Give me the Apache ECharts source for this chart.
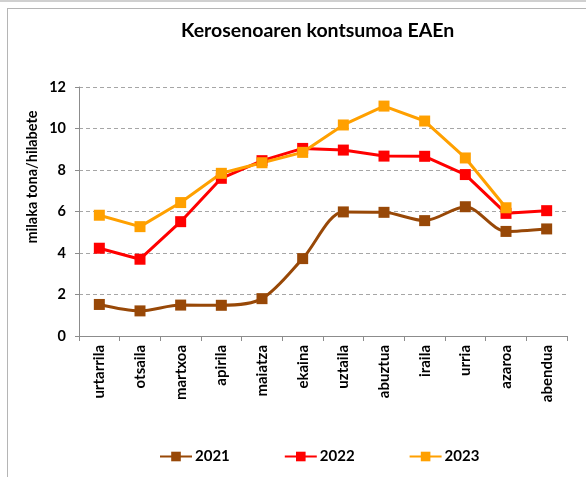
<!DOCTYPE html>
<html><head><meta charset="utf-8">
<script src="https://cdn.jsdelivr.net/npm/echarts@6/dist/echarts.min.js"></script>
<style>
html,body{margin:0;padding:0;background:#fff;}
#frame{position:absolute;left:7px;top:8px;width:600px;height:500px;border:1px solid #b5b5b5;box-sizing:border-box;}
#topline{position:absolute;left:0;top:0;width:586px;height:2px;background:#d0d0d0;}
#c{position:absolute;left:0;top:0;width:586px;height:477px;}
</style></head>
<body>
<div id="topline"></div>
<div id="frame"></div>
<div id="c"></div>
<script>
const categories = ['urtarrila','otsaila','martxoa','apirila','maiatza','ekaina','uztaila','abuztua','iraila','urria','azaroa','abendua'];
const yearNames = ['2021','2022','2023'];
const v2021 = [1.52,1.21,1.49,1.48,1.80,3.73,5.98,5.96,5.56,6.23,5.04,5.16];
const v2022 = [4.23,3.70,5.51,7.60,8.45,9.04,8.96,8.67,8.66,7.78,5.91,6.04];
const v2023 = [5.82,5.27,6.43,7.84,8.35,8.85,10.17,11.08,10.36,8.58,6.18,null];
const yTicks = {min:0,max:12,interval:2};
const yName = 'milaka tona/hilabete';
const colors = ['#984807','#FF0000','#FFA000'];
const font = 'Lato';
const chart = echarts.init(document.getElementById('c'), null, {renderer:'canvas'});
function series(name, data, color, smooth){
  return {name, type:'line', data, smooth, symbol:'rect', symbolSize:11,
    lineStyle:{color, width:3}, itemStyle:{color}, z: 2, animation:false};
}
chart.setOption({
  animation:false,
  title:{text:'Kerosenoaren kontsumoa EAEn', left:176, top:16,
    textStyle:{fontFamily:font, fontWeight:'bold', fontSize:19.5, color:'#000'}},
  graphic:[{type:'text', x:32, y:177, rotation:Math.PI/2,
    style:{text:yName, fontFamily:font, fontWeight:'bold', fontSize:14.5, fill:'#000',
      textAlign:'center', textVerticalAlign:'middle'}}],
  grid:{left:79, right:19, top:87, bottom:141},
  legend:{left:154, top:444, itemWidth:32, itemHeight:12, itemGap:54,
    textStyle:{fontFamily:font, fontWeight:'bold', fontSize:15, color:'#000', padding:[0,0,0,-2]},
    data:yearNames},
  xAxis:{type:'category', data:categories, boundaryGap:true,
    axisLine:{lineStyle:{color:'#8c8c8c', width:1}},
    axisTick:{show:true, length:5, interval:0, lineStyle:{color:'#8c8c8c'}},
    axisLabel:{rotate:90, interval:0, margin:9, fontFamily:font, fontWeight:'bold', fontSize:15, color:'#000'}},
  yAxis:{type:'value', min:yTicks.min, max:yTicks.max, interval:yTicks.interval,
    axisLine:{show:true, lineStyle:{color:'#8c8c8c'}},
    axisTick:{show:true, length:4, lineStyle:{color:'#8c8c8c'}},
    splitLine:{show:true, lineStyle:{color:'#a6a6a6', type:[4,3], width:1}},
    axisLabel:{margin:13, fontFamily:font, fontWeight:'bold', fontSize:14.5, color:'#000'}},
  series:[series(yearNames[0], v2021, colors[0], 0.3),
          series(yearNames[1], v2022, colors[1], false),
          series(yearNames[2], v2023, colors[2], false)]
});
</script>
</body></html>
